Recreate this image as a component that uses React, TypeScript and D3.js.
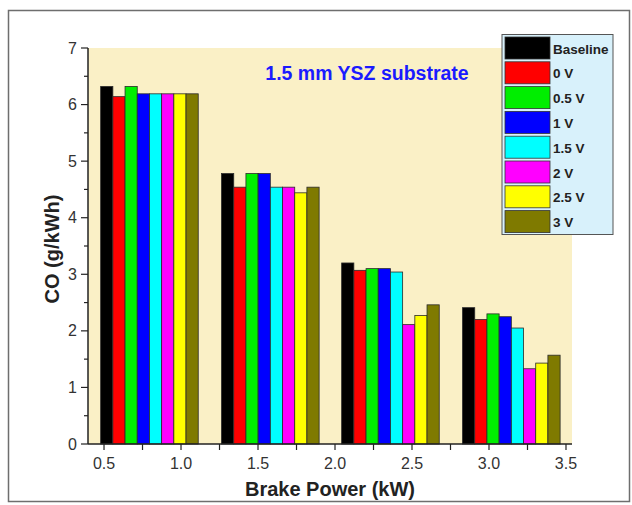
import React from "react";
import * as d3 from "d3";

const seriesNames = ["Baseline", "0 V", "0.5 V", "1 V", "1.5 V", "2 V", "2.5 V", "3 V"];
const seriesColors = ["#000000", "#ff0000", "#00ee00", "#0000ff", "#00ffff", "#ff00ff", "#ffff00", "#7f7a00"];
const groupCenters = [0.795, 1.58, 2.36, 3.145];
const valuesBaseline = [6.32, 4.78, 3.2, 2.41];
const values0V = [6.14, 4.54, 3.07, 2.2];
const values05V = [6.32, 4.78, 3.1, 2.3];
const values1V = [6.19, 4.78, 3.1, 2.25];
const values15V = [6.19, 4.54, 3.04, 2.05];
const values2V = [6.19, 4.54, 2.11, 1.33];
const values25V = [6.19, 4.44, 2.27, 1.43];
const values3V = [6.19, 4.54, 2.46, 1.57];
const allSeries = [valuesBaseline, values0V, values05V, values1V, values15V, values2V, values25V, values3V];
const xTicks = [0.5, 1.0, 1.5, 2.0, 2.5, 3.0, 3.5];
const yTicks = [0, 1, 2, 3, 4, 5, 6, 7];

export default function App() {
  const left = 88, right = 572, top = 48, bottom = 444;
  const x = d3.scaleLinear().domain([0.396, 3.539]).range([left, right]);
  const y = d3.scaleLinear().domain([0, 7]).range([bottom, top]);
  const barW = 0.0792;
  const minorX = d3.range(0.5, 3.51, 0.25);
  const minorY = d3.range(0.5, 7, 1);
  const font = "Arial, 'Liberation Sans', sans-serif";
  return (
    <svg width={632} height={505} style={{ position: "absolute", left: 0, top: 0 }}>
      <rect x={0} y={0} width={632} height={505} fill="#fff" />
      <rect x={8.5} y={10.5} width={621} height={491} fill="none" stroke="#6e6e6e" strokeWidth={1.5} />
      <rect x={left} y={top} width={right - left} height={bottom - top} fill="#faf0c6" />
      {allSeries.map((vals, si) =>
        vals.map((v, gi) => {
          const x0 = x(groupCenters[gi] - 4 * barW + si * barW);
          const x1 = x(groupCenters[gi] - 4 * barW + (si + 1) * barW);
          return (
            <rect key={si + "-" + gi} x={x0} y={y(v)} width={x1 - x0} height={y(0) - y(v)}
              fill={seriesColors[si]} stroke="#2a2a2a" strokeWidth={0.8} />
          );
        })
      )}
      <line x1={left} x2={right} y1={bottom} y2={bottom} stroke="#222" strokeWidth={1.5} />
      <line x1={left} x2={left} y1={top} y2={bottom} stroke="#222" strokeWidth={1.5} />
      {minorX.map((t) => (
        <line key={"xt" + t} x1={x(t)} x2={x(t)} y1={bottom} y2={bottom + 6} stroke="#222" strokeWidth={1.2} />
      ))}
      {xTicks.map((t) => (
        <text key={"xl" + t} x={x(t)} y={bottom + 25} textAnchor="middle" fontFamily={font} fontSize={16} fill="#333">
          {t.toFixed(1)}
        </text>
      ))}
      {yTicks.map((t) => (
        <g key={"y" + t}>
          <line x1={left - 7} x2={left} y1={y(t)} y2={y(t)} stroke="#222" strokeWidth={1.2} />
          <text x={left - 11} y={y(t) + 5.5} textAnchor="end" fontFamily={font} fontSize={16} fill="#333">{t}</text>
        </g>
      ))}
      {minorY.map((t) => (
        <line key={"ym" + t} x1={left - 4} x2={left} y1={y(t)} y2={y(t)} stroke="#222" strokeWidth={1.2} />
      ))}
      <text x={330} y={496} textAnchor="middle" fontFamily={font} fontSize={20} fontWeight="bold" fill="#222">
        Brake Power (kW)
      </text>
      <text transform={`translate(59,249) rotate(-90)`} textAnchor="middle" fontFamily={font} fontSize={20} fontWeight="bold" fill="#222">
        CO (g/kWh)
      </text>
      <text x={367} y={80} textAnchor="middle" fontFamily={font} fontSize={19.5} fontWeight="bold" fill="#1a1aff">
        1.5 mm YSZ substrate
      </text>
      <rect x={502} y={34.5} width={111} height={200} fill="#d8f1fb" stroke="#555" strokeWidth={1} />
      {seriesNames.map((n, i) => (
        <g key={n}>
          <rect x={505} y={37 + i * 24.8} width={45} height={22} fill={seriesColors[i]} stroke="#333" strokeWidth={0.8} />
          <text x={553} y={53.5 + i * 24.8} fontFamily={font} fontSize={13.5} fontWeight="bold" fill="#222">{n}</text>
        </g>
      ))}
    </svg>
  );
}
